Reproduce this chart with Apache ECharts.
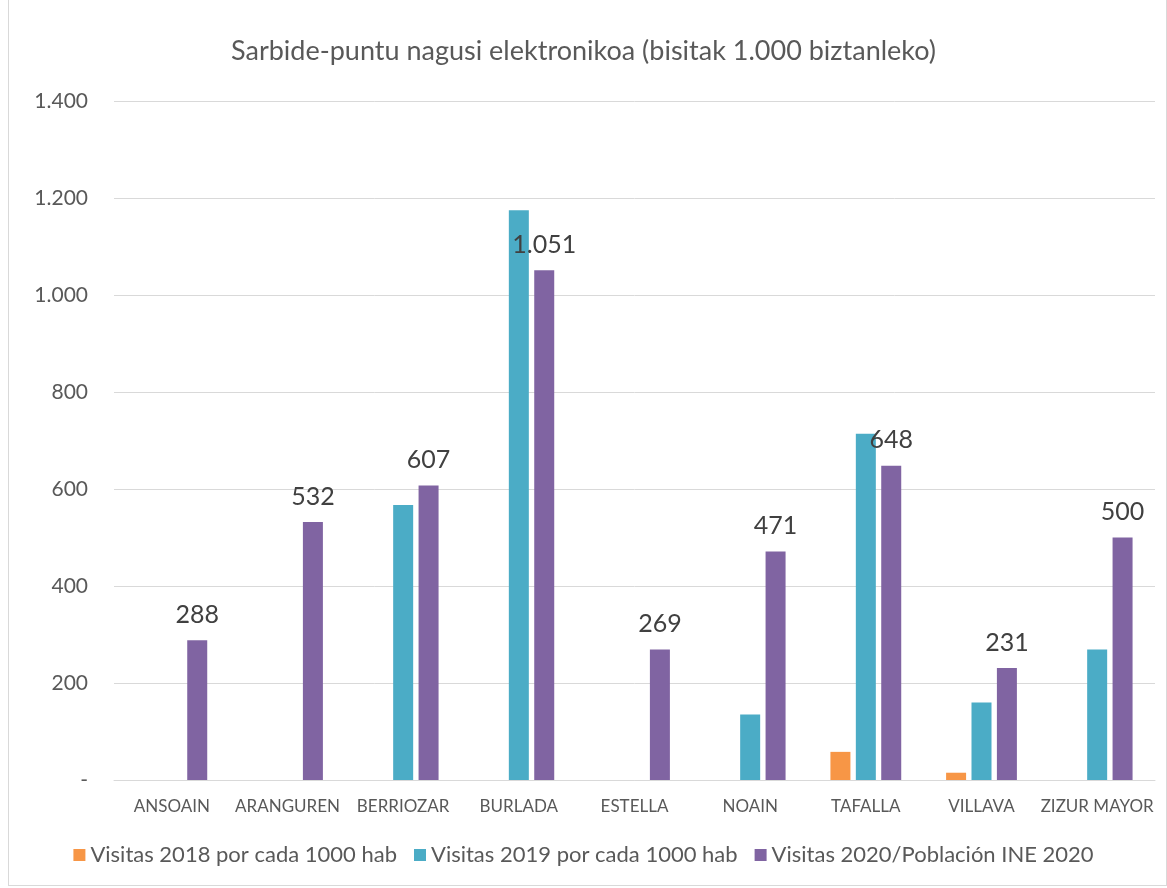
<!DOCTYPE html>
<html>
<head>
<meta charset="utf-8">
<script src="https://cdn.jsdelivr.net/npm/echarts@6/dist/echarts.min.js"></script>
<style>
  html, body { margin: 0; padding: 0; background: #fff; }
  #chart { width: 1167px; height: 888px; }
  #frame { position: absolute; left: 8px; top: 0; width: 1157px; height: 885px; border: 1px solid #d9d9d9; border-top: none; pointer-events: none; }
</style>
</head>
<body>
<div id="chart"></div>
<div id="frame"></div>
<script>
// datos
const categories = ["ANSOAIN", "ARANGUREN", "BERRIOZAR", "BURLADA", "ESTELLA", "NOAIN", "TAFALLA", "VILLAVA", "ZIZUR MAYOR"];
const visitas2018 = [null, null, null, null, null, null, 58, 15, null];
const visitas2019 = [null, null, 567, 1175, null, 135, 714, 160, 269];
const visitas2020 = [288, 532, 607, 1051, 269, 471, 648, 231, 500];
const yTicks = { min: 0, max: 1400, interval: 200 };

const fmt = (v) => {
  if (v === 0) return "-";
  return String(Math.round(v)).replace(/\B(?=(\d{3})+(?!\d))/g, ".");
};

const chart = echarts.init(document.getElementById("chart"));
const font = "Lato, 'Open Sans', sans-serif";

chart.setOption({
  animation: false,
  textStyle: { fontFamily: font },
  title: {
    text: "Sarbide-puntu nagusi elektronikoa (bisitak 1.000 biztanleko)",
    left: "center",
    top: 33,
    textStyle: { fontSize: 27, fontWeight: "normal", color: "#595959", fontFamily: font },
  },
  color: ["#f79646", "#4bacc6", "#8064a2"],
  grid: { left: 114, right: 12, top: 101, bottom: 108 },
  legend: {
    bottom: 17,
    left: "center",
    itemWidth: 12,
    itemHeight: 12,
    itemGap: 17,
    icon: "rect",
    textStyle: { fontSize: 22, color: "#595959", fontFamily: font },
    data: ["Visitas 2018 por cada 1000 hab", "Visitas 2019 por cada 1000 hab", "Visitas 2020/Población INE 2020"],
  },
  xAxis: {
    type: "category",
    data: categories,
    axisLine: { lineStyle: { color: "#d9d9d9" } },
    axisTick: { show: false },
    axisLabel: { fontSize: 17, color: "#595959", margin: 18, interval: 0 },
  },
  yAxis: {
    type: "value",
    min: yTicks.min,
    max: yTicks.max,
    interval: yTicks.interval,
    axisLine: { show: false },
    axisTick: { show: false },
    splitLine: { lineStyle: { color: "#d9d9d9", width: 1 } },
    axisLabel: { fontSize: 21, color: "#595959", margin: 26, formatter: fmt },
  },
  series: [
    {
      name: "Visitas 2018 por cada 1000 hab",
      type: "bar",
      data: visitas2018,
      barWidth: 20,
      barGap: "27%",
    },
    {
      name: "Visitas 2019 por cada 1000 hab",
      type: "bar",
      data: visitas2019,
      barWidth: 20,
      barGap: "27%",
    },
    {
      name: "Visitas 2020/Población INE 2020",
      type: "bar",
      data: visitas2020,
      barWidth: 20,
      barGap: "27%",
      label: {
        show: true,
        position: "top",
        distance: 13,
        fontSize: 25,
        color: "#404040",
        fontFamily: font,
        formatter: (p) => fmt(p.value),
      },
    },
  ],
});
</script>
</body>
</html>
